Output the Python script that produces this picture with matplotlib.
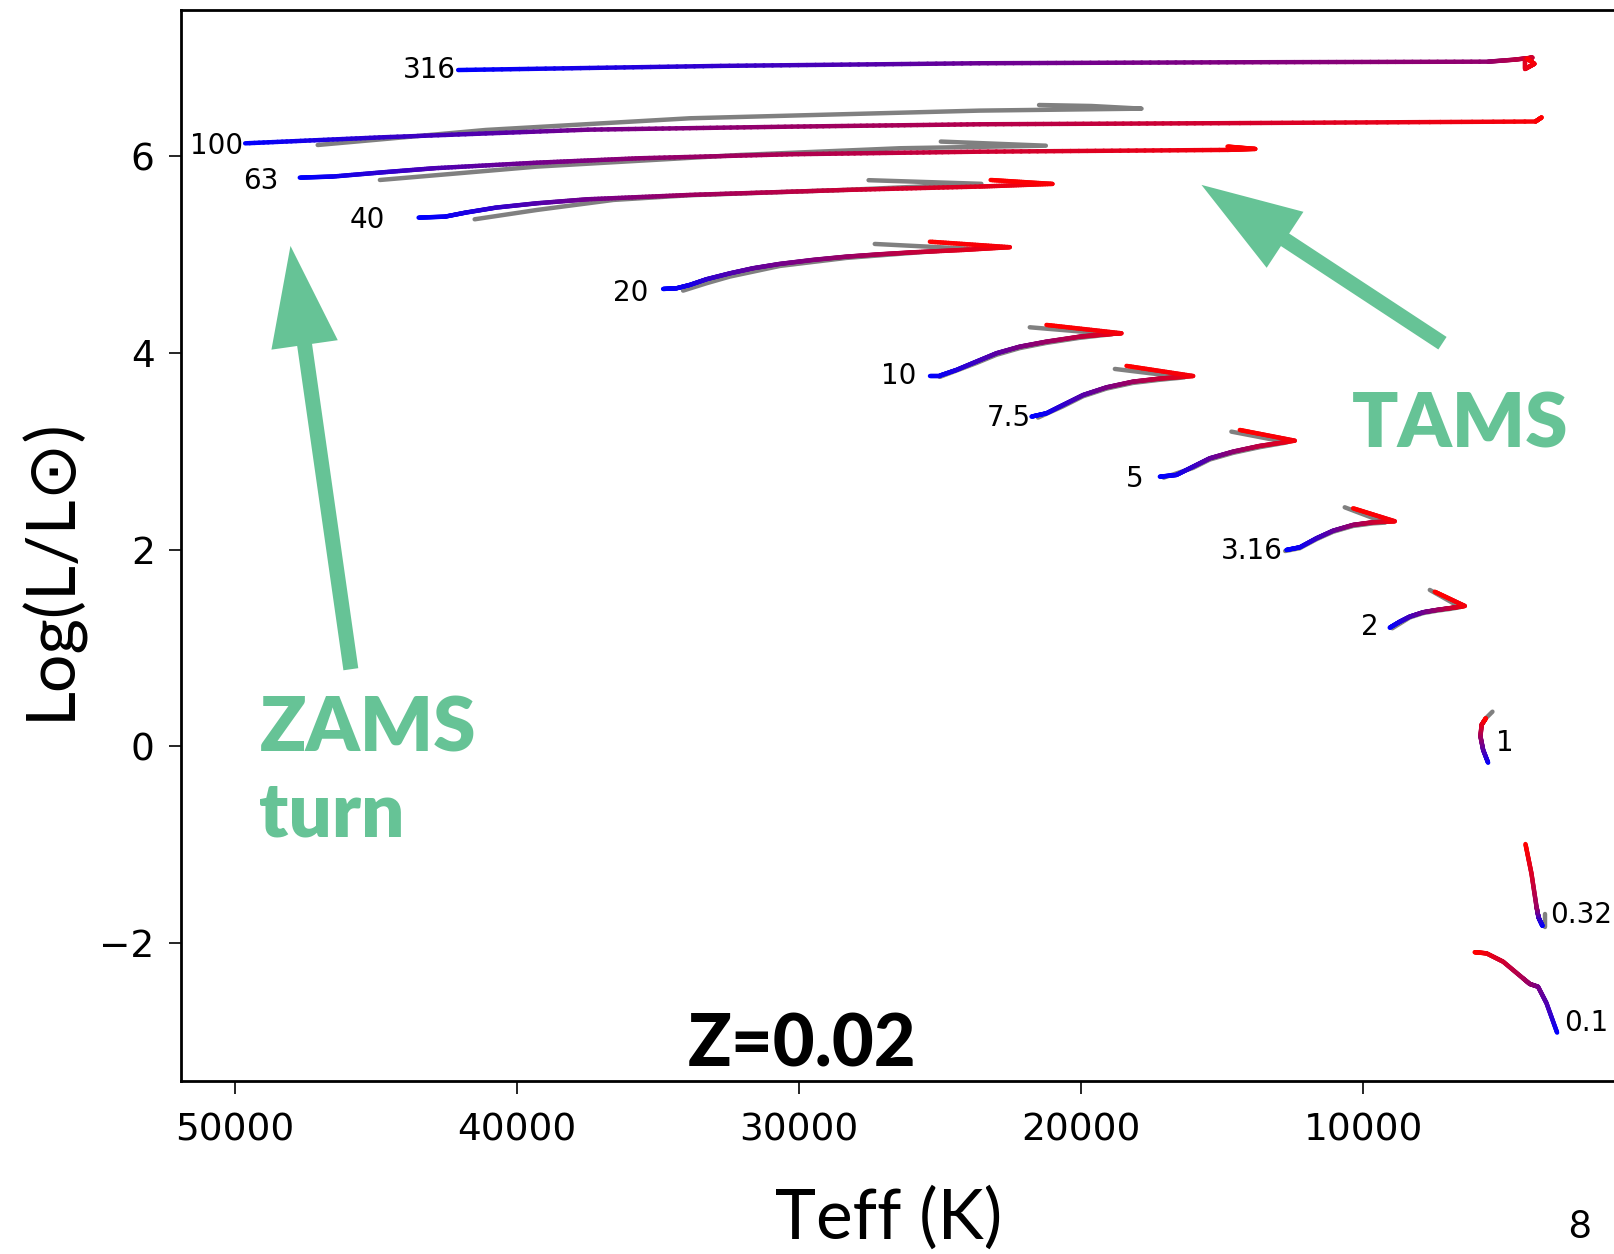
import numpy as np
import matplotlib.pyplot as plt
from matplotlib.collections import LineCollection
from matplotlib.colors import LinearSegmentedColormap

# --- evolutionary tracks, Z=0.02: Teff (K), log L/Lsun, fraction of MS age ---
t316 = [42080, 32774, 23613, 14526, 5584, 4672, 4015, 4271, 4271, 3942, 4198]
l316 = [6.880, 6.922, 6.949, 6.959, 6.965, 6.985, 7.006, 6.996, 6.891, 6.943, 6.996]
a316 = [0, 0.2, 0.42, 0.5, 0.57, 0.7, 0.8, 0.85, 0.9, 0.95, 1.0]

t100 = [49628, 44715, 37482, 30256, 23595, 15128, 3906, 3687]
l100 = [6.134, 6.196, 6.273, 6.304, 6.328, 6.339, 6.356, 6.398]
a100 = [0, 0.2, 0.45, 0.6, 0.7, 0.82, 0.97, 1.0]

t63 = [47693, 46518, 44712, 42905, 39289, 35672, 30249, 23595, 14818, 13834, 14818]
l63 = [5.785, 5.796, 5.840, 5.881, 5.937, 5.982, 6.023, 6.049, 6.067, 6.077, 6.101]
a63 = [0, 0.06, 0.18, 0.3, 0.45, 0.55, 0.68, 0.8, 0.95, 0.98, 1.0]

t40 = [43482, 42544, 41818, 40737, 39289, 37478, 33865, 28438, 23595, 21022, 23212]
l40 = [5.378, 5.388, 5.429, 5.480, 5.524, 5.565, 5.609, 5.659, 5.694, 5.721, 5.761]
a40 = [0, 0.04, 0.1, 0.2, 0.32, 0.45, 0.62, 0.78, 0.88, 0.97, 1.0]

t20 = [34818, 34343, 33873, 33281, 32453, 31628, 30683, 29500, 28321, 27139, 25960,
       24186, 22533, 25365]
l20 = [4.652, 4.659, 4.693, 4.751, 4.811, 4.863, 4.907, 4.948, 4.981, 5.005, 5.025,
       5.049, 5.077, 5.133]
a20 = [0, 0.04, 0.09, 0.18, 0.3, 0.38, 0.45, 0.52, 0.6, 0.68, 0.76, 0.87, 0.95, 1.0]

t10 = [25365, 25015, 24424, 23716, 23004, 22179, 21234, 20051, 19270, 18577, 21234]
l10 = [3.770, 3.770, 3.828, 3.913, 3.998, 4.065, 4.116, 4.167, 4.187, 4.201, 4.286]
a10 = [0, 0.04, 0.12, 0.23, 0.35, 0.48, 0.6, 0.74, 0.85, 0.95, 1.0]

t7p5 = [21763, 21234, 20643, 19935, 19106, 18165, 17219, 16037, 18398]
l7p5 = [3.353, 3.387, 3.472, 3.573, 3.651, 3.709, 3.740, 3.766, 3.869]
a7p5 = [0, 0.05, 0.18, 0.33, 0.48, 0.62, 0.78, 0.95, 1.0]

t5 = [17216, 16628, 16037, 15446, 14617, 13675, 12435, 14383]
l5 = [2.742, 2.759, 2.844, 2.929, 2.997, 3.055, 3.108, 3.217]
a5 = [0, 0.05, 0.2, 0.37, 0.55, 0.75, 0.95, 1.0]

t3p16 = [12730, 12256, 11665, 11077, 10369, 9658, 8891, 10369]
l3p16 = [1.996, 2.023, 2.115, 2.192, 2.251, 2.278, 2.288, 2.420]
a3p16 = [0, 0.05, 0.2, 0.38, 0.58, 0.78, 0.95, 1.0]

t2 = [9070, 8713, 8358, 7887, 7413, 6884, 6409, 7475]
l2 = [1.205, 1.266, 1.318, 1.362, 1.385, 1.406, 1.426, 1.571]
a2 = [0, 0.1, 0.25, 0.42, 0.58, 0.78, 0.95, 1.0]

t1 = [5584, 5759, 5854, 5817, 5664]
l1 = [-0.169, -0.040, 0.097, 0.215, 0.283]
a1 = [0, 0.3, 0.6, 0.85, 1.0]

t0p32 = [3657, 3778, 3814, 3869, 4048, 4260]
l0p32 = [-1.830, -1.757, -1.719, -1.634, -1.296, -0.997]
a0p32 = [0, 0.15, 0.3, 0.6, 0.85, 1.0]

t0p1 = [3139, 3515, 3814, 4106, 4344, 5052, 5642, 6059]
l0p1 = [-2.916, -2.616, -2.449, -2.421, -2.364, -2.194, -2.109, -2.098]
a0p1 = [0, 0.3, 0.45, 0.55, 0.65, 0.8, 0.92, 1.0]

masses = ["316", "100", "63", "40", "20", "10", "7.5", "5", "3.16", "2", "1", "0.32", "0.1"]

# comparison tracks (grey)
g100_t = [47058, 41102, 33869, 23595, 17865, 19636, 21497]
g100_l = [6.117, 6.270, 6.389, 6.467, 6.487, 6.514, 6.524]
g63_t = [44854, 39292, 32062, 26424, 21256, 24978]
g63_l = [5.761, 5.897, 6.016, 6.084, 6.110, 6.152]
g40_t = [41496, 39289, 36577, 33865, 28438, 23540, 27537]
g40_l = [5.361, 5.456, 5.558, 5.606, 5.659, 5.722, 5.759]
g20_t = [34110, 33281, 32453, 30683, 28321, 25960, 24015, 27318]
g20_l = [4.635, 4.710, 4.778, 4.886, 4.968, 5.020, 5.062, 5.110]
g10_t = [25015, 23716, 23004, 22179, 21234, 20051, 18905, 21825]
g10_l = [3.757, 3.898, 3.982, 4.050, 4.103, 4.155, 4.192, 4.262]
g7p5_t = [21533, 20643, 19935, 19106, 18165, 17219, 16350, 18810]
g7p5_l = [3.343, 3.458, 3.560, 3.638, 3.696, 3.728, 3.752, 3.838]
g5_t = [17081, 16037, 15446, 14617, 13675, 12701, 14680]
g5_l = [2.732, 2.831, 2.916, 2.984, 3.042, 3.091, 3.200]
g3p16_t = [12774, 12256, 11665, 11077, 10369, 9658, 9234, 10665]
g3p16_l = [1.985, 2.014, 2.105, 2.181, 2.240, 2.267, 2.274, 2.430]
g2_t = [8979, 8358, 7887, 7413, 6884, 6570, 7650]
g2_l = [1.199, 1.309, 1.353, 1.377, 1.398, 1.414, 1.589]
g1_t = [5817, 5664, 5430]
g1_l = [0.215, 0.283, 0.350]
g0p32_t = [3577, 3577]
g0p32_l = [-1.840, -1.704]

tracks = [(t316, l316, a316), (t100, l100, a100), (t63, l63, a63), (t40, l40, a40),
          (t20, l20, a20), (t10, l10, a10), (t7p5, l7p5, a7p5), (t5, l5, a5),
          (t3p16, l3p16, a3p16), (t2, l2, a2), (t1, l1, a1), (t0p32, l0p32, a0p32),
          (t0p1, l0p1, a0p1)]
grey_tracks = [(g100_t, g100_l), (g63_t, g63_l), (g40_t, g40_l), (g20_t, g20_l),
               (g10_t, g10_l), (g7p5_t, g7p5_l), (g5_t, g5_l), (g3p16_t, g3p16_l),
               (g2_t, g2_l), (g1_t, g1_l), (g0p32_t, g0p32_l)]

# label offsets (points) from the ZAMS end of each track
label_off = [(-1.5, 0), (-1.5, -2.2), (-15, -2.6), (-24.5, -1.5), (-10.4, -2.6),
             (-9.6, 0), (-0.7, -1.1), (-11.9, -1.5), (-3, -0.7), (-8.2, 0.7),
             (6, 14.5), (5.2, 8.2), (5.2, 7.1)]

GREEN = "#66c396"
LW = 3.2
cmap = LinearSegmentedColormap.from_list("age", ["blue", "red"])


def age_coloured(ax, teff, logl, age, n=30):
    # split each piece of the track so the colour can follow the age
    segs, vals = [], []
    for i in range(len(teff) - 1):
        f = np.linspace(0, 1, n + 1)
        x = teff[i] + (teff[i + 1] - teff[i]) * f
        y = logl[i] + (logl[i + 1] - logl[i]) * f
        c = age[i] + (age[i + 1] - age[i]) * f
        pts = np.column_stack([x, y])
        segs += [pts[j:j + 2] for j in range(n)]
        vals += list(0.5 * (c[:-1] + c[1:]))
    lc = LineCollection(segs, colors=cmap(np.array(vals)), linewidths=LW,
                        capstyle="round", joinstyle="round", zorder=3)
    ax.add_collection(lc)


fig = plt.figure(figsize=(16.15, 12.54), dpi=100)
ax = fig.add_axes([0.1121, 0.1376, 0.9069, 0.8542])

for gt, gl in grey_tracks:
    ax.plot(gt, gl, color="grey", lw=LW, solid_capstyle="round",
            solid_joinstyle="round", zorder=2)

for (teff, logl, age), m, off in zip(tracks, masses, label_off):
    age_coloured(ax, teff, logl, age)
    ha = "left" if off[0] > 0 else "right"
    ax.annotate(m, xy=(teff[0], logl[0]), xytext=off, textcoords="offset points",
                ha=ha, va="center", fontsize=20, zorder=4)

ax.set_xlim(51900, 0)
ax.set_ylim(-3.413, 7.488)
ax.set_xticks([50000, 40000, 30000, 20000, 10000])
ax.set_yticks([-2, 0, 2, 4, 6])
ax.tick_params(labelsize=27, length=9, width=1.2, pad=10)
ax.tick_params(axis="x", pad=13)
for s in ax.spines.values():
    s.set_linewidth(2.0)

# annotations
arrow = dict(arrowstyle="simple,head_length=1.0,head_width=0.67,tail_width=0.15",
             mutation_scale=72, color=GREEN, lw=0, shrinkA=0, shrinkB=0)
ax.annotate("", xy=(48022, 5.090), xytext=(45883, 0.782), arrowprops=arrow)
ax.annotate("", xy=(15741, 5.711), xytext=(7201, 4.100), arrowprops=arrow)
ax.text(49124, -0.059, "ZAMS", color=GREEN, fontsize=55, fontweight="heavy",
        family="Lato", ha="left", va="baseline")
ax.text(49124, -0.918, "turn", color=GREEN, fontsize=55, fontweight="heavy",
        family="Lato", ha="left", va="baseline")
ax.text(10402, 3.034, "TAMS", color=GREEN, fontsize=55, fontweight="heavy",
        family="Lato", ha="left", va="baseline")
ax.text(29891, -3.256, "Z=0.02", color="black", fontsize=52, fontweight="black",
        family="Lato", ha="center", va="baseline")

fig.text(0.031, 0.5466, "Log(L/L\u2299)", rotation=90, ha="center", va="center",
         fontsize=49, family=["Lato", "DejaVu Sans"])
fig.text(0.5505, 0.0287, "Teff (K)", ha="center", va="center", fontsize=50, family="Lato")
fig.text(0.9777, 0.0215, "8", ha="center", va="center", fontsize=28, family="Lato")

fig.savefig("out.png", dpi=100)
